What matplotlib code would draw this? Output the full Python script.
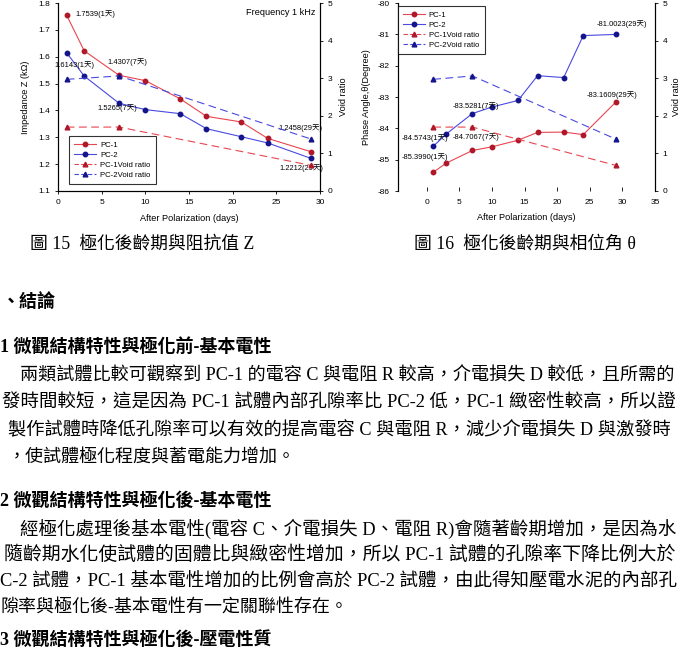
import matplotlib
matplotlib.use("Agg")
import matplotlib.pyplot as plt
from matplotlib.lines import Line2D

plt.rcParams['axes.unicode_minus'] = False
plt.rcParams['font.family'] = ['Liberation Sans', 'Noto Sans CJK TC']

# ---------------- data ----------------
days = [1, 3, 7, 10, 14, 17, 21, 24, 29]
imp_pc1 = [1.7539, 1.622, 1.5307, 1.511, 1.443, 1.378, 1.357, 1.296, 1.2458]
imp_pc2 = [1.6143, 1.528, 1.4265, 1.403, 1.388, 1.332, 1.302, 1.279, 1.2212]
phase_pc1 = [-85.3990, -85.11, -84.7067, -84.59, -84.38, -84.13, -84.12, -84.20, -83.1609]
phase_pc2 = [-84.5743, -84.18, -83.5281, -83.32, -83.11, -82.32, -82.38, -81.04, -81.0023]
void_days = [1, 7, 29]
void_pc1 = [1.70, 1.70, 0.68]
void_pc2 = [2.97, 3.06, 1.38]

left_ann_text = ["1.7539(1天)", "1.6143(1天)", "1.4307(7天)", "1.5265(7天)", "1.2458(29天)", "1.2212(29天)"]
right_ann_text = ["-84.5743(1天)", "-85.3990(1天)", "-84.7067(7天)", "-83.5281(7天)", "-83.1609(29天)", "-81.0023(29天)"]

cap1 = "圖 15  極化後齡期與阻抗值 Z"
cap2 = "圖 16  極化後齡期與相位角 θ"
body = [
    ("、結論", 2, 302, True),
    ("1 微觀結構特性與極化前-基本電性", 0, 347, True),
    ("兩類試體比較可觀察到 PC-1 的電容 C 與電阻 R 較高，介電損失 D 較低，且所需的", 20, 376, False),
    ("發時間較短，這是因為 PC-1 試體內部孔隙率比 PC-2 低，PC-1 緻密性較高，所以證", 2, 403, False),
    ("製作試體時降低孔隙率可以有效的提高電容 C 與電阻 R，減少介電損失 D 與激發時", 8, 430, False),
    ("，使試體極化程度與蓄電能力增加。", 8, 457, False),
    ("2 微觀結構特性與極化後-基本電性", 0, 501, True),
    ("經極化處理後基本電性(電容 C、介電損失 D、電阻 R)會隨著齡期增加，是因為水", 20, 529, False),
    ("隨齡期水化使試體的固體比與緻密性增加，所以 PC-1 試體的孔隙率下降比例大於", 4, 555, False),
    ("C-2 試體，PC-1 基本電性增加的比例會高於 PC-2 試體，由此得知壓電水泥的內部孔", 0, 581, False),
    ("隙率與極化後-基本電性有一定關聯性存在。", 0, 607, False),
    ("3 微觀結構特性與極化後-壓電性質", 0, 640, True),
]
# right edge (px) that justified lines are stretched to
body_right = [None, None, 673, 673, 670, None, None, 673, 673, 675, None, None]

# ---------------- style ----------------
RED_M = '#B0182A'
RED_L = '#E8464F'
BLUE_M = '#14148C'
BLUE_L = '#4A4AE0'
W, H = 684, 649
FS_TICK = 6
FS_LAB = 6.6
FS_ANN = 5.4
px = 0.72  # px -> pt

fig = plt.figure(figsize=(W / 100, H / 100), dpi=100)
fig.patch.set_facecolor('white')


def rect(x0, y0, x1, y1):
    return [x0 / W, 1 - y1 / H, (x1 - x0) / W, (y1 - y0) / H]


def style_lines(ax, axv, x_main1, y1, x_main2, y2, xv, v1, v2):
    ax.plot(x_main1, y1, '-', color=RED_L, lw=0.8, marker='o', ms=3.2,
            mfc=RED_M, mec=RED_M, label='PC-1')
    ax.plot(x_main2, y2, '-', color=BLUE_L, lw=0.8, marker='o', ms=3.2,
            mfc=BLUE_M, mec=BLUE_M, label='PC-2')
    axv.plot(xv, v1, color=RED_L, lw=0.8, ls=(0, (7, 4)), marker='^', ms=3.4,
             mfc=RED_M, mec=RED_M, label='PC-1Void ratio')
    axv.plot(xv, v2, color=BLUE_L, lw=0.8, ls=(0, (7, 4)), marker='^', ms=3.4,
             mfc=BLUE_M, mec=BLUE_M, label='PC-2Void ratio')


def legend_handles():
    return [
        Line2D([], [], color=RED_L, lw=0.8, marker='o', ms=3.2, mfc=RED_M, mec=RED_M),
        Line2D([], [], color=BLUE_L, lw=0.8, marker='o', ms=3.2, mfc=BLUE_M, mec=BLUE_M),
        Line2D([], [], color=RED_L, lw=0.8, ls=(0, (4, 2)), marker='^', ms=3.4, mfc=RED_M, mec=RED_M),
        Line2D([], [], color=BLUE_L, lw=0.8, ls=(0, (4, 2)), marker='^', ms=3.4, mfc=BLUE_M, mec=BLUE_M),
    ]


labels = ['PC-1', 'PC-2', 'PC-1Void ratio', 'PC-2Void ratio']

# ---------------- left chart ----------------
ax1 = fig.add_axes(rect(58, 3, 320, 191))
ax1v = ax1.twinx()
style_lines(ax1, ax1v, days, imp_pc1, days, imp_pc2, void_days, void_pc1, void_pc2)
ax1.set_xlim(0, 30)
ax1.set_ylim(1.1, 1.8)
ax1v.set_ylim(0, 5)
ax1.set_xticks(range(0, 31, 5))
ax1.set_yticks([1.1, 1.2, 1.3, 1.4, 1.5, 1.6, 1.7, 1.8])
ax1v.set_yticks(range(0, 6))
for a in (ax1, ax1v):
    a.spines['top'].set_visible(False)
    for s in a.spines.values():
        s.set_linewidth(0.8)
ax1.tick_params(labelsize=FS_TICK, length=2.5, width=0.6, pad=3)
ax1v.tick_params(labelsize=FS_TICK, length=2.5, width=0.6, pad=3)
ax1.set_xlabel('After Polarization (days)', fontsize=FS_LAB, labelpad=6)
ax1.set_ylabel('Impedance Z (kΩ)', fontsize=FS_LAB, labelpad=6)
ax1v.set_ylabel('Void ratio', fontsize=FS_LAB, labelpad=5)
ax1.text(0.981, 0.952, 'Frequency 1 kHz', transform=ax1.transAxes, ha='right', va='center',
         fontsize=FS_LAB)

left_ann_pts = [(days[0], imp_pc1[0]), (days[0], imp_pc2[0]), (days[2], imp_pc1[2]),
                (days[2], imp_pc2[2]), (days[8], imp_pc1[8]), (days[8], imp_pc2[8])]
left_offsets = [((9, 1), 'left'), ((8, -12), 'center'), ((8, 13), 'center'),
                ((-2, -5), 'center'), ((-11, 24), 'center'), ((-10, -10), 'center')]
for t, p, ((dx, dy), ha) in zip(left_ann_text, left_ann_pts, left_offsets):
    ax1.annotate(t, xy=p, xytext=(dx * px, dy * px), textcoords='offset points',
                 ha=ha, va='center', fontsize=FS_ANN)

leg1 = ax1v.legend(legend_handles(), labels, loc='lower left', bbox_to_anchor=(0.042, 0.037),
                   borderaxespad=0, fontsize=FS_ANN + 0.2, frameon=True, fancybox=False,
                   edgecolor='black', handlelength=2.8, handletextpad=0.5,
                   labelspacing=0.32, borderpad=0.7)
leg1.get_frame().set_linewidth(0.8)

# ---------------- right chart ----------------
ax2 = fig.add_axes(rect(397.7, 3, 655, 191))
ax2v = ax2.twinx()
style_lines(ax2, ax2v, days, phase_pc1, days, phase_pc2, void_days, void_pc1, void_pc2)
ax2.set_xlim(-4.45, 35)
ax2.set_ylim(-86, -80)
ax2v.set_ylim(0, 5)
ax2.set_xticks(range(0, 36, 5))
ax2.set_yticks(range(-86, -79))
ax2v.set_yticks(range(0, 6))
for a in (ax2, ax2v):
    a.spines['top'].set_visible(False)
    a.spines['bottom'].set_visible(False)
    for s in a.spines.values():
        s.set_linewidth(0.8)
ax2.tick_params(axis='y', labelsize=FS_TICK, length=2.5, width=0.6, pad=3)
ax2.tick_params(axis='x', labelsize=FS_TICK, length=3, width=0.6, direction='in', pad=6)
ax2v.tick_params(labelsize=FS_TICK, length=2.5, width=0.6, pad=3)
ax2.set_xlabel('After Polarization (days)', fontsize=FS_LAB, labelpad=5)
ax2.set_ylabel('Phase Angle,θ(Degree)', fontsize=FS_LAB, labelpad=5)
ax2v.set_ylabel('Void ratio', fontsize=FS_LAB, labelpad=3)

right_ann_pts = [(days[0], phase_pc2[0]), (days[0], phase_pc1[0]), (days[2], phase_pc1[2]),
                 (days[2], phase_pc2[2]), (days[8], phase_pc1[8]), (days[8], phase_pc2[8])]
right_offsets = [(-8, 8), (-8, 15), (4, 13), (4, 7), (-4, 7), (6, 10)]
for t, p, (dx, dy) in zip(right_ann_text, right_ann_pts, right_offsets):
    ax2.annotate(t, xy=p, xytext=(dx * px, dy * px), textcoords='offset points',
                 ha='center', va='center', fontsize=FS_ANN)

leg2 = ax2v.legend(legend_handles(), labels, loc='upper left', bbox_to_anchor=(0.0, 0.985),
                   borderaxespad=0, fontsize=FS_ANN + 0.2, frameon=True, fancybox=False,
                   edgecolor='black', handlelength=2.8, handletextpad=0.5,
                   labelspacing=0.32, borderpad=0.7)
leg2.get_frame().set_linewidth(0.8)

# ---------------- captions and body text ----------------
serif = ['Liberation Serif', 'Noto Sans CJK TC']
fig.text(30 / W, 1 - 244 / H, cap1, family=serif, fontsize=12.8, ha='left', va='center')
fig.text(414 / W, 1 - 244 / H, cap2, family=serif, fontsize=12.8, ha='left', va='center')

renderer = fig.canvas.get_renderer()
for (txt, x, y, bold), xr in zip(body, body_right):
    fs = 13.0
    t = fig.text(x / W, 1 - y / H, txt, family=serif, fontsize=fs,
                 fontweight='bold' if bold else 'normal', ha='left', va='center')
    if xr is not None:
        w = t.get_window_extent(renderer).width
        t.set_fontsize(fs * (xr - x) / w)

fig.savefig('out.png', dpi=100, facecolor='white')
